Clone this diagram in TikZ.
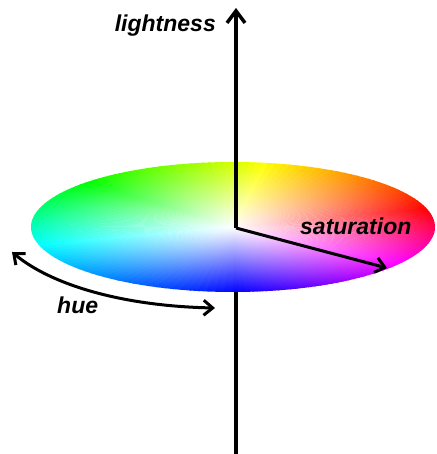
\documentclass[tikz,border=0pt]{standalone}
\usepackage{fontspec}
\setmainfont{Liberation Sans}
\usetikzlibrary{arrows.meta,fadings}
\tikzfading[name=whitecentre, inner color=transparent!0, outer color=transparent!100]
\begin{document}
\begin{tikzpicture}[x=1pt, y=1pt, every node/.style={font=\fontsize{23}{27}\selectfont\bfseries\itshape, inner sep=0pt}]
    \useasboundingbox (0,0) rectangle (436,454);
    \coordinate (o) at (236,226);
    \coordinate (top) at (236,446);
    \coordinate (bot) at (236,0);
    \coordinate (sat) at (387,186);
    \coordinate (hueL) at (12,202);
    \coordinate (hueR) at (215,146);

    \draw[line width=3.5pt] (bot) -- (o);
    \begin{scope}[shift={(233,227)}, xscale=202, yscale=65]
        \foreach \ta/\ha/\tb/\hb in {15/0/80/60, 80/60/135/120, 135/120/195/180, 195/180/270/240, 270/240/325/300, 325/300/375/360}{
            \foreach \k in {0,...,29}{
                \pgfmathsetmacro\t{\ta+(\tb-\ta)*\k/30}
                \pgfmathsetmacro\tt{\t+(\tb-\ta)/30+0.5}
                \pgfmathsetmacro\h{mod(\ha+(\hb-\ha)*\k/30,360)}
                \definecolor{wc}{Hsb}{\h,1,1}
                \fill[wc] (0,0) -- (\t:1) arc[start angle=\t, end angle=\tt, radius=1] -- cycle;
            }
        }
        \fill[white, path fading=whitecentre] (0,0) circle[radius=1];
    \end{scope}
    \draw[line width=3.5pt, -{Straight Barb[length=12pt, width=18pt]}] (o) -- (top);
    \draw[line width=3pt, -{Straight Barb[length=9pt, width=15pt]}] (o) -- (sat);
    \draw[line width=3pt, {Straight Barb[length=9pt, width=15pt]}-{Straight Barb[length=9pt, width=15pt]}] (hueL) .. controls (50,170) and (120,148) .. (hueR);

    \node[anchor=base east] (lightness) at (216,422) {lightness};
    \node[anchor=base west] (saturation) at (300,219) {saturation};
    \node[anchor=base west] (hue) at (57,140) {hue};
\end{tikzpicture}
\end{document}
